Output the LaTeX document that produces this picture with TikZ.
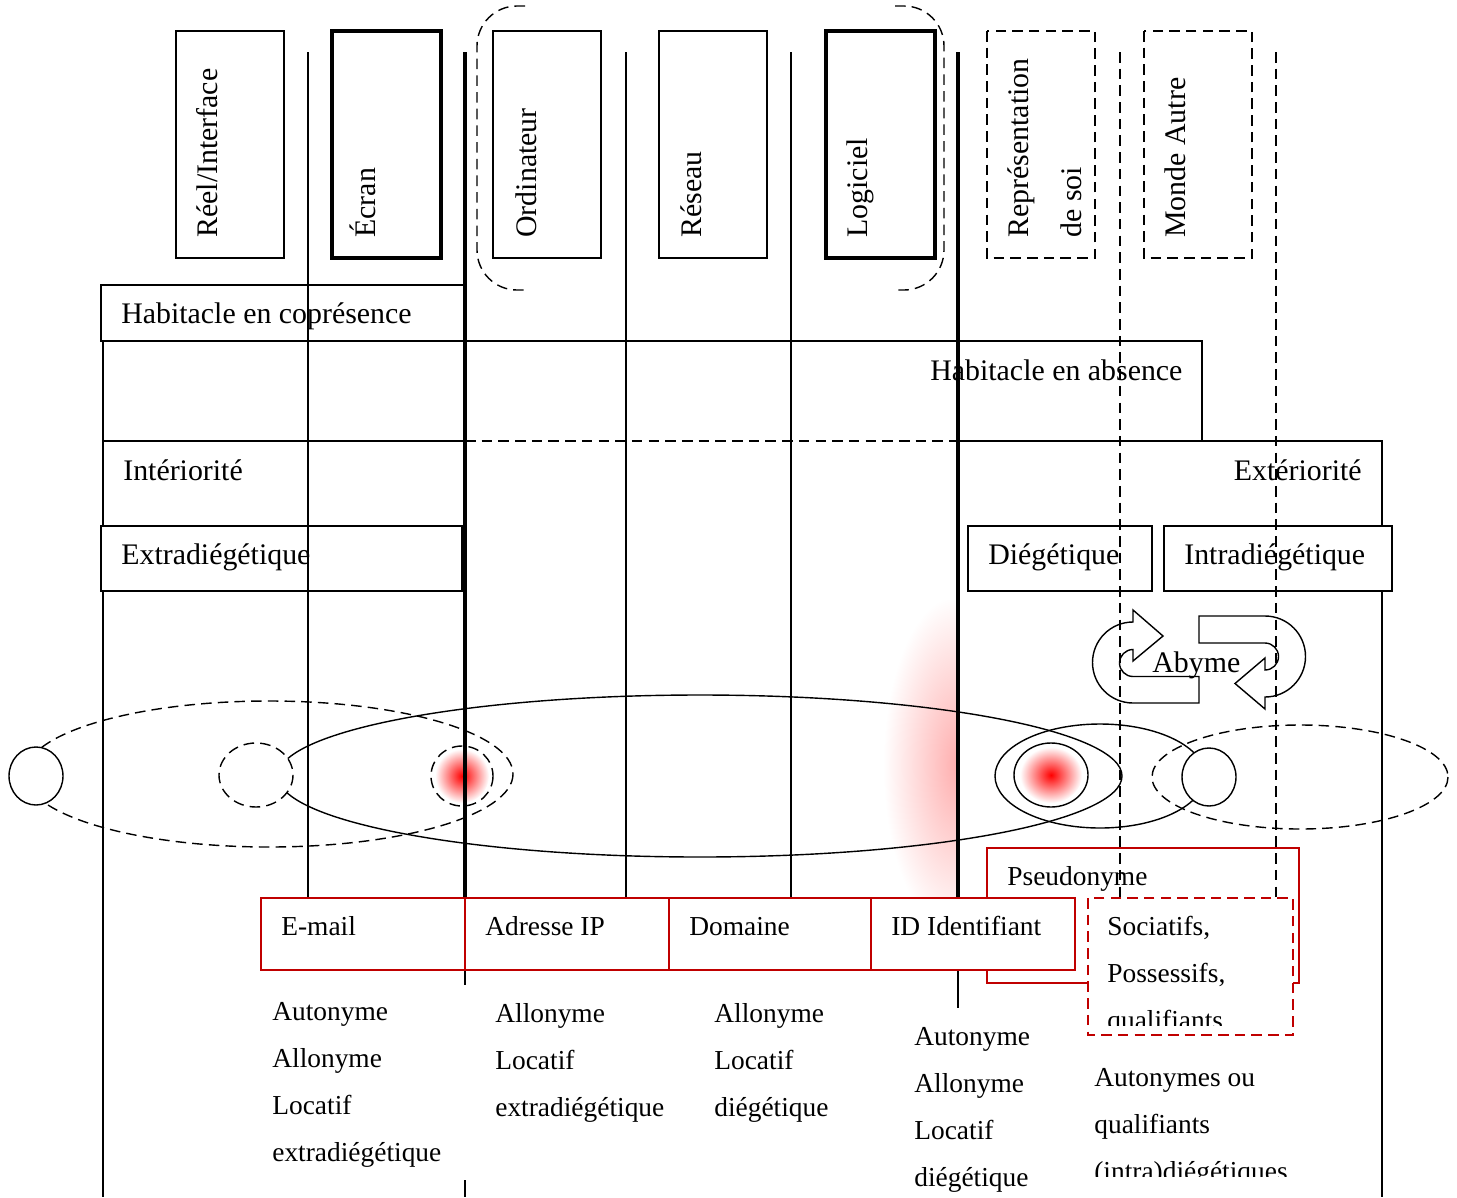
\documentclass[tikz,border=0pt]{standalone}
\usepackage{fontspec}
\setmainfont{Liberation Serif}
\definecolor{boxred}{HTML}{C00000}

\begin{document}
\begin{tikzpicture}[x=0.02cm, y=0.02cm, yscale=-1,
  thinl/.style={line width=0.8pt},
  boldl/.style={line width=2pt},
  dashl/.style={line width=0.8pt, dash pattern=on 6pt off 3.5pt},
  txt/.style={anchor=base west, inner sep=0pt, font=\fontsize{17}{26.6}\selectfont},
  smtxt/.style={txt, font=\fontsize{15.6}{26.6}\selectfont},
  vtxt/.style={txt, rotate=90},
  redbox/.style={draw=boxred, line width=1.1pt, fill=white},
  glow/.style={inner color=red, outer color=white}
]
\useasboundingbox (0,0) rectangle (1457,1197);

% the seven strata on top
\draw[thinl] (176,31) rectangle (284,258);
\draw[boldl] (332,31) rectangle (441,258);
\draw[thinl] (493,31) rectangle (601,258);
\draw[thinl] (659,31) rectangle (767,258);
\draw[boldl] (826,31) rectangle (935,258);
\draw[dashl] (987,31) rectangle (1095,258);
\draw[dashl] (1144,31) rectangle (1252,258);
\node[vtxt] (reel)     at (217,238)  {Réel/Interface};
\node[vtxt] (ecran)    at (375,238)  {Écran};
\node[vtxt] (ordi)     at (536,238)  {Ordinateur};
\node[vtxt] (reseau)   at (701,238)  {Réseau};
\node[vtxt] (logiciel) at (867,238)  {Logiciel};
\node[vtxt] (repr)     at (1028,238) {Représentation};
\node[vtxt] (desoi)    at (1081,238) {de soi};
\node[vtxt] (monde)    at (1185,238) {Monde Autre};
\draw[dashl, rounded corners=0.8cm] (525,6) -- (477,6) -- (477,290) -- (525,290);
\draw[dashl, rounded corners=0.8cm] (895,6) -- (944,6) -- (944,290) -- (895,290);

% habitacles and frame
\draw[thinl] (101,285) rectangle (465,341);
\node[txt] (copres) at (121,323) {Habitacle en coprésence};
\draw[thinl] (465,441) -- (103,441) -- (103,341) -- (1202,341) -- (1202,441) -- (958,441);
\draw[dashl] (465,441) -- (958,441);
\draw[thinl] (958,441) -- (1382,441) -- (1382,1197);
\draw[thinl] (103,441) -- (103,1197);
\node[txt] (absence) at (930,380) {Habitacle en absence};
\node[txt] (interio) at (123,480) {Intériorité};
\node[txt, anchor=base east] (exterio) at (1362,480) {Extériorité};

\draw[thinl, fill=white] (101,526) rectangle (462,591);
\draw[thinl, fill=white] (968,526) rectangle (1152,591);
\draw[thinl, fill=white] (1164,526) rectangle (1392,591);
\node[txt] (extra) at (121,564)  {Extradiégétique};
\node[txt] (dieg)  at (988,564)  {Diégétique};
\node[txt] (intra) at (1184,564) {Intradiégétique};

% glow along the software line
\begin{scope}
  \clip (870,600) rectangle (958,910);
  \shade[inner color=red!32, outer color=white] (958,765) ellipse [x radius=75, y radius=170];
\end{scope}

% ellipses and circles
\draw[dashl] (269,774) ellipse [x radius=244, y radius=73];
\draw[thinl] (700,776) ellipse [x radius=422, y radius=81];
\draw[thinl] (1100,776) ellipse [x radius=105, y radius=52];
\draw[dashl] (1300,777) ellipse [x radius=148, y radius=52];
\draw[thinl, fill=white] (36,776) ellipse [x radius=27, y radius=29];
\draw[dashl, fill=white] (256,775) ellipse [x radius=37, y radius=32];
\shade[glow] (462,776) circle (27);
\draw[dashl] (462,776) ellipse [x radius=31, y radius=30];
\shade[glow] (1051,775) ellipse [x radius=31, y radius=28];
\draw[thinl] (1051,775) ellipse [x radius=37, y radius=32];
\draw[thinl, fill=white] (1209,777) ellipse [x radius=27, y radius=29];

% abyme
\draw[thinl, fill=white] (1199,703) -- (1133,703) arc[start angle=90, end angle=270, radius=40.5]
  -- (1133,610) -- (1163,636) -- (1133,661) -- (1133,649.5)
  arc[start angle=270, end angle=90, radius=13.5] -- (1199,676.5) -- cycle;
\draw[thinl, fill=white] (1199,616) -- (1265,616) arc[start angle=-90, end angle=90, radius=40.5]
  -- (1265,709) -- (1235,683.5) -- (1265,658) -- (1265,670)
  arc[start angle=90, end angle=-90, radius=13.5] -- (1199,643) -- cycle;
\node[txt] (abyme) at (1152,672) {Abyme};

% column lines
\foreach \x in {308,626,791} \draw[thinl] (\x,52) -- (\x,897);
\foreach \x in {465,958} \draw[boldl] (\x,52) -- (\x,897);
\foreach \x in {1120,1276} \draw[dashl] (\x,52) -- (\x,897);
\draw[thinl] (465,970) -- (465,985);
\draw[thinl] (465,1180) -- (465,1197);
\draw[thinl] (958,970) -- (958,1008);

% identifiers
\draw[draw=boxred, line width=1.1pt] (987,848) rectangle (1299,983);
\node[smtxt] (pseudo) at (1007,885) {Pseudonyme};
\draw[redbox] (261,898) rectangle (465,970);
\draw[redbox] (465,898) rectangle (669,970);
\draw[redbox] (669,898) rectangle (871,970);
\draw[redbox] (871,898) rectangle (1075,970);
\node[smtxt] (email)   at (281,935) {E-mail};
\node[smtxt] (ip)      at (485,935) {Adresse IP};
\node[smtxt] (domaine) at (689,935) {Domaine};
\node[smtxt] (idf)     at (891,935) {ID Identifiant};
\draw[redbox, dash pattern=on 6pt off 3.5pt] (1088,898) rectangle (1293,1035);
\begin{scope}
  \clip (1088,898) rectangle (1293,1025);
  \foreach \w [count=\i from 0] in {Sociatifs{,}, Possessifs{,}, qualifiants}
    \node[smtxt] (soc-\i) at (1107,{935+47*\i}) {\w};
\end{scope}

% kinds of names
\foreach \w [count=\i from 0] in {Autonyme, Allonyme, Locatif, extradiégétique}
  \node[smtxt] (mail-\i) at (272,{1020+47*\i}) {\w};
\foreach \w [count=\i from 0] in {Allonyme, Locatif, extradiégétique}
  \node[smtxt] (ipk-\i) at (495,{1022+47*\i}) {\w};
\foreach \w [count=\i from 0] in {Allonyme, Locatif, diégétique}
  \node[smtxt] (dom-\i) at (714,{1022+47*\i}) {\w};
\foreach \w [count=\i from 0] in {Autonyme, Allonyme, Locatif, diégétique}
  \node[smtxt] (idk-\i) at (914,{1045+47*\i}) {\w};
\begin{scope}
  \clip (1080,1040) rectangle (1380,1176);
  \foreach \w [count=\i from 0] in {Autonymes ou, qualifiants, (intra)diégétiques}
    \node[smtxt] (qual-\i) at (1094,{1086+47*\i}) {\w};
\end{scope}
\end{tikzpicture}
\end{document}
